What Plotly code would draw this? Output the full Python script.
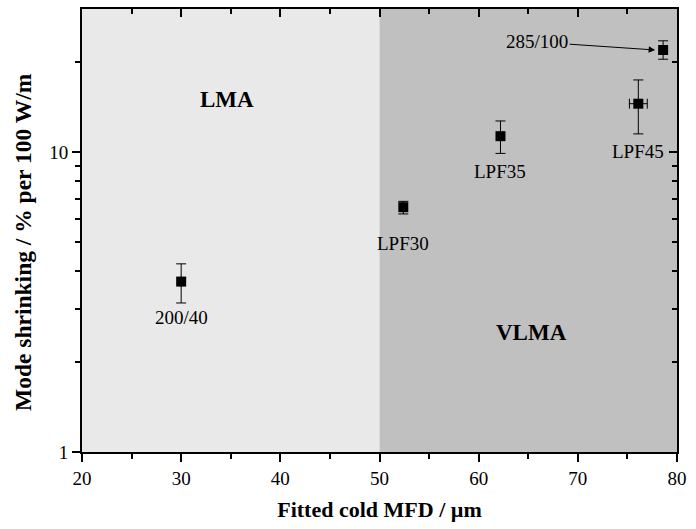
import numpy as np
import plotly.graph_objects as go

# ---- data ----
names = ["200/40", "LPF30", "LPF35", "LPF45", "285/100"]
mfd = [30.0, 52.4, 62.2, 76.1, 78.6]
mfd_err = [0.0, 0.0, 0.0, 0.9, 0.0]
shrink = [3.7, 6.55, 11.3, 14.5, 21.9]
err_plus = [0.54, 0.3, 1.4, 2.9, 1.6]
err_minus = [0.56, 0.33, 1.4, 3.0, 1.5]
label_shift = [-36, -36, -35, -48, None]

regions = ["LMA", "VLMA"]
region_x = [[20, 50], [50, 80]]
region_colors = ["#e9e9e9", "#c0c0c0"]
region_label_pos = [(34.6, 15.0), (65.3, 2.5)]

x_ticks = [20, 30, 40, 50, 60, 70, 80]
y_ticks = [1, 10]
y_minor = [2, 3, 4, 5, 6, 7, 8, 9, 20]

arrow_tip = (77.8, 21.9)

FONT = "Liberation Serif, 'Times New Roman', Times, serif"

fig = go.Figure()

fig.add_trace(go.Scatter(
    x=mfd, y=shrink, mode="markers",
    marker=dict(symbol="square", size=10, color="black"),
    error_y=dict(type="data", symmetric=False, array=err_plus, arrayminus=err_minus,
                 color="black", thickness=1, width=5),
    error_x=dict(type="data", array=mfd_err, color="black", thickness=1, width=5),
    showlegend=False, cliponaxis=False,
))

shapes = []
for xr, c in zip(region_x, region_colors):
    shapes.append(dict(type="rect", xref="x", yref="paper", x0=xr[0], x1=xr[1],
                       y0=0, y1=1, fillcolor=c, line=dict(width=0), layer="below"))

annotations = []
for name, x, y, s in zip(names, mfd, shrink, label_shift):
    if s is None:
        continue
    annotations.append(dict(x=x, y=np.log10(y), xref="x", yref="y", text=name,
                            showarrow=False, yshift=s,
                            font=dict(family=FONT, size=19, color="black")))

annotations.append(dict(x=arrow_tip[0], y=np.log10(arrow_tip[1]), xref="x", yref="y",
                        text=names[4], showarrow=True, ax=-118, ay=-8,
                        arrowhead=2, arrowsize=1.3, arrowwidth=1, arrowcolor="black",
                        font=dict(family=FONT, size=19, color="black")))

for r, (px, py) in zip(regions, region_label_pos):
    annotations.append(dict(x=px, y=np.log10(py), xref="x", yref="y", text="<b>%s</b>" % r,
                            showarrow=False, font=dict(family=FONT, size=23, color="black")))

# y axis title as free annotation (slightly below centre, as in the reference)
annotations.append(dict(x=0, y=0.474, xref="paper", yref="paper", xshift=-59,
                        xanchor="center", yanchor="middle",
                        text="<b>Mode shrinking / % per 100 W/m</b>", textangle=-90,
                        showarrow=False, font=dict(family=FONT, size=23.5, color="black")))

axis_font = dict(family=FONT, size=19, color="black")
fig.update_layout(
    width=696, height=529,
    margin=dict(l=82, r=11, t=9, b=77),
    paper_bgcolor="white", plot_bgcolor="white",
    font=dict(family=FONT),
    shapes=shapes, annotations=annotations,
    xaxis=dict(range=[20, 80], tickvals=x_ticks, ticks="outside", ticklen=8, tickwidth=1.5,
               tickcolor="black", showline=True, linecolor="black", linewidth=2,
               showgrid=False, zeroline=False, tickfont=axis_font,
               minor=dict(dtick=5, ticks="outside", ticklen=5, tickcolor="black", tickwidth=1.5),
               title=dict(text="<b>Fitted cold MFD / µm</b>", font=dict(family=FONT, size=22, color="black"),
                          standoff=14)),
    yaxis=dict(type="log", range=[0, np.log10(30)], tickvals=y_ticks, ticktext=["1", "10"],
               ticks="outside", ticklen=8, tickwidth=1.5, tickcolor="black",
               showline=True, linecolor="black", linewidth=2, showgrid=False, zeroline=False,
               tickfont=axis_font,
               minor=dict(tickvals=y_minor, ticks="outside", ticklen=5, tickcolor="black", tickwidth=1.5)),
    xaxis2=dict(range=[20, 80], overlaying="x", side="top", tickvals=x_ticks, ticks="inside",
                ticklen=8, tickwidth=1.5, tickcolor="black", showticklabels=False,
                showline=True, linecolor="black", linewidth=2, showgrid=False, zeroline=False,
                minor=dict(dtick=5, ticks="inside", ticklen=5, tickcolor="black", tickwidth=1.5)),
    yaxis2=dict(type="log", range=[0, np.log10(30)], overlaying="y", side="right", tickvals=y_ticks,
                ticks="inside", ticklen=8, tickwidth=1.5, tickcolor="black", showticklabels=False,
                showline=True, linecolor="black", linewidth=2, showgrid=False, zeroline=False,
                minor=dict(tickvals=y_minor, ticks="inside", ticklen=5, tickcolor="black", tickwidth=1.5)),
)

# invisible trace to activate the mirrored axes
fig.add_trace(go.Scatter(x=[20], y=[1], xaxis="x2", yaxis="y2", mode="markers",
                         marker=dict(opacity=0), showlegend=False, hoverinfo="skip"))

fig.write_html("out.html")
